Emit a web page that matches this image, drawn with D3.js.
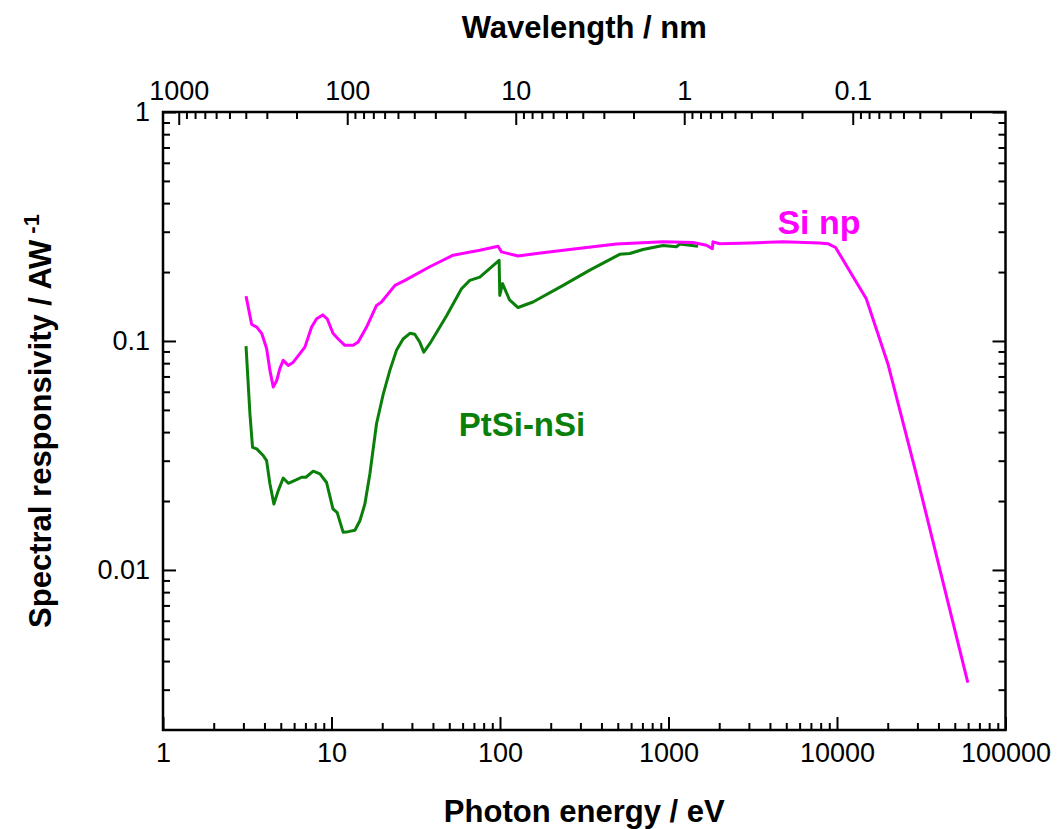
<!DOCTYPE html>
<html>
<head>
<meta charset="utf-8">
<script src="https://cdn.jsdelivr.net/npm/d3@7"></script>
<style>
  body { margin: 0; background: #fff; }
  text { font-family: "Liberation Sans", Arial, sans-serif; }
</style>
</head>
<body>
<div id="viz"></div>
<script>
(function() {

    // Si np photodiode: photon energy (eV) and responsivity (A/W)
    var siEnergy = [3.11, 3.36, 3.60, 3.85, 4.12, 4.31, 4.51, 4.73, 4.94, 5.17, 5.54, 5.93, 6.49, 6.95,
        7.62, 8.16, 8.86, 9.43, 10.2, 10.96, 12.0, 13.45, 14.4, 16.15, 18.5, 19.8, 23.8, 27.3, 38.3,
        52.7, 75.9, 97.4, 102, 128, 165, 259, 491, 928, 1398, 1678, 1821, 1836, 2013, 3030, 4776,
        7885, 8830, 9810, 14920, 20040, 29530, 59760]
    var siResp = [0.157, 0.118, 0.115, 0.108, 0.0928, 0.0744, 0.0629, 0.0672, 0.0759, 0.0823, 0.0782,
        0.0808, 0.0880, 0.0940, 0.115, 0.125, 0.130, 0.125, 0.108, 0.102, 0.0957, 0.0957, 0.0989,
        0.115, 0.143, 0.148, 0.175, 0.184, 0.211, 0.237, 0.249, 0.259, 0.245, 0.235, 0.241, 0.251,
        0.265, 0.271, 0.269, 0.262, 0.253, 0.271, 0.266, 0.268, 0.271, 0.268, 0.266, 0.256, 0.153,
        0.0796, 0.0263, 0.00322]

    // PtSi-nSi photodiode
    var ptEnergy = [3.11, 3.28, 3.40, 3.60, 3.93, 4.12, 4.31, 4.55, 4.83, 5.17, 5.54, 6.21, 6.65, 7.05,
        7.79, 8.54, 9.35, 10.2, 10.81, 11.73, 12.57, 13.77, 14.74, 15.78, 16.9, 18.5, 20.3, 22.2,
        24.3, 26.6, 29.2, 31.2, 33.4, 35.3, 38.3, 48.2, 59.1, 66.2, 75.9, 98.8, 99.7, 103.5, 114,
        128, 157, 237, 341, 513, 589, 706, 928, 1114, 1165, 1496]
    var ptResp = [0.0950, 0.0481, 0.0343, 0.0338, 0.0316, 0.0300, 0.0238, 0.0194, 0.0222, 0.0252,
        0.0239, 0.0248, 0.0254, 0.0254, 0.0270, 0.0263, 0.0241, 0.0185, 0.0178, 0.0146, 0.0147,
        0.0149, 0.0164, 0.0194, 0.0263, 0.0435, 0.0588, 0.0744, 0.0910, 0.102, 0.108, 0.107, 0.0989,
        0.0894, 0.0973, 0.129, 0.169, 0.184, 0.190, 0.225, 0.158, 0.178, 0.151, 0.140, 0.148, 0.175,
        0.204, 0.239, 0.241, 0.251, 0.261, 0.258, 0.265, 0.259]

    // tick labels
    var energyTicks = [1, 10, 100, 1000, 10000, 100000]
    var respTicks = [0.01, 0.1, 1]
    var waveTicks = [1000, 100, 10, 1, 0.1]
    var hc = 1239.84   // eV nm

    var width = 1059;
    var height = 829;
    var margin = {left: 163, top: 112, right: 53.5, bottom: 99}
    var w = width - margin.left - margin.right
    var h = height - margin.top - margin.bottom

    //Create the SVG
    var svgRoot = d3.select("#viz")
        .append("svg")
        .attr("height", height)
        .attr("width", width)
    var svg = svgRoot.append("g")
        .attr("transform", "translate(" + margin.left + "," + margin.top + ")")

    //Scales
    var x = d3.scaleLog().domain([1, 100000]).range([0, w])
    var y = d3.scaleLog().domain([0.002, 1]).range([h, 0])
    //wavelength is hc/E so its log is linear in log E
    var xWave = d3.scaleLog().domain([hc / 1, hc / 100000]).range([0, w])

    //minor ticks 2..9 for every decade inside a domain
    function minors(lo, hi) {
        var out = []
        for (var p = -4; p <= 6; p++) {
            for (var m = 2; m <= 9; m++) {
                var v = m * Math.pow(10, p)
                if (v > lo && v < hi) out.push(v)
            }
        }
        return out
    }

    var fmt = function(d) { return d >= 1 ? d3.format("d")(d) : String(+d.toPrecision(2)) }

    //Major axes, ticks point into the plot
    function styleAxis(g) {
        g.select(".domain").remove()
        g.selectAll(".tick line").attr("stroke", "#000").attr("stroke-width", 2)
        g.selectAll(".tick text").attr("font-size", "27px").attr("fill", "#000")
    }

    svg.append("g")
        .attr("transform", "translate(0," + h + ")")
        .call(d3.axisBottom(x).tickValues(energyTicks).tickFormat(fmt).tickSize(-13).tickPadding(13))
        .call(styleAxis)
    svg.append("g")
        .attr("transform", "translate(0," + h + ")")
        .call(d3.axisBottom(x).tickValues(minors(1, 100000)).tickFormat("").tickSize(-7))
        .call(styleAxis)

    svg.append("g")
        .call(d3.axisTop(xWave).tickValues(waveTicks).tickFormat(fmt).tickSize(-13).tickPadding(12))
        .call(styleAxis)
    svg.append("g")
        .call(d3.axisTop(xWave).tickValues(minors(hc / 100000, hc)).tickFormat("").tickSize(-7))
        .call(styleAxis)

    svg.append("g")
        .call(d3.axisLeft(y).tickValues(respTicks).tickFormat(fmt).tickSize(-13).tickPadding(13))
        .call(styleAxis)
    svg.append("g")
        .call(d3.axisLeft(y).tickValues(minors(0.002, 1)).tickFormat("").tickSize(-7))
        .call(styleAxis)

    svg.append("g")
        .attr("transform", "translate(" + w + ",0)")
        .call(d3.axisRight(y).tickValues(respTicks).tickFormat("").tickSize(-13))
        .call(styleAxis)
    svg.append("g")
        .attr("transform", "translate(" + w + ",0)")
        .call(d3.axisRight(y).tickValues(minors(0.002, 1)).tickFormat("").tickSize(-7))
        .call(styleAxis)

    //Frame
    svg.append("rect")
        .attr("width", w)
        .attr("height", h)
        .attr("fill", "none")
        .attr("stroke", "#000")
        .attr("stroke-width", 2.5)

    //Curves
    var line = d3.line()
        .x(function(d) { return x(d[0]) })
        .y(function(d) { return y(d[1]) })

    var ptData = d3.zip(ptEnergy, ptResp)
    var siData = d3.zip(siEnergy, siResp)

    svg.append("path")
        .datum(ptData)
        .attr("d", line)
        .attr("fill", "none")
        .attr("stroke", "#0a7f0a")
        .attr("stroke-width", 3)
        .attr("stroke-linejoin", "round")

    svg.append("path")
        .datum(siData)
        .attr("d", line)
        .attr("fill", "none")
        .attr("stroke", "#ff00ff")
        .attr("stroke-width", 3)
        .attr("stroke-linejoin", "round")

    //Series labels
    svg.append("text")
        .attr("x", x(135))
        .attr("y", y(0.0386))
        .attr("font-size", "33px")
        .attr("font-weight", "bold")
        .attr("fill", "#0a7f0a")
        .attr("text-anchor", "middle")
        .text("PtSi-nSi")

    svg.append("text")
        .attr("x", x(10000) - 18)
        .attr("y", y(0.3) + 2)
        .attr("font-size", "34px")
        .attr("font-weight", "bold")
        .attr("fill", "#ff00ff")
        .attr("text-anchor", "middle")
        .text("Si np")

    //Axis titles
    svgRoot.append("text")
        .attr("x", margin.left + w / 2)
        .attr("y", 822)
        .attr("text-anchor", "middle")
        .attr("font-size", "31px")
        .attr("font-weight", "bold")
        .text("Photon energy / eV")

    svgRoot.append("text")
        .attr("x", margin.left + w / 2)
        .attr("y", 38)
        .attr("text-anchor", "middle")
        .attr("font-size", "31px")
        .attr("font-weight", "bold")
        .text("Wavelength / nm")

    var yTitle = svgRoot.append("text")
        .attr("transform", "translate(51," + (margin.top + h / 2) + ") rotate(-90)")
        .attr("text-anchor", "middle")
        .attr("font-size", "31px")
        .attr("font-weight", "bold")
    yTitle.append("tspan").text("Spectral responsivity / AW")
    yTitle.append("tspan")
        .attr("dx", 6)
        .attr("dy", -12)
        .attr("font-size", "22px")
        .text("-1")

})();
</script>
</body>
</html>
